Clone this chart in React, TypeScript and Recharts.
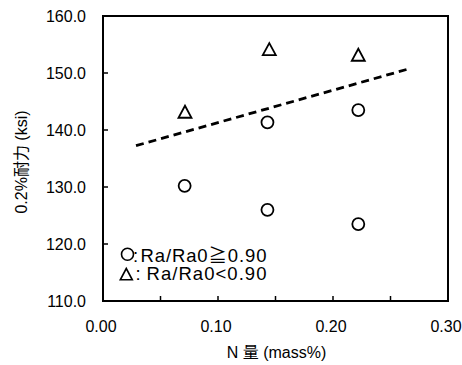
import React from "react"
import {
  ComposedChart,
  Scatter,
  XAxis,
  YAxis,
  ReferenceArea,
  Label,
} from "recharts"

const HIGH_RATIO = [
  { x: 0.071, y: 130.2 },
  { x: 0.143, y: 141.35 },
  { x: 0.143, y: 126.0 },
  { x: 0.222, y: 143.5 },
  { x: 0.222, y: 123.5 },
]
const LOW_RATIO = [
  { x: 0.0713, y: 143.2 },
  { x: 0.1446, y: 154.2 },
  { x: 0.222, y: 153.2 },
]
const TREND = [
  { x: 0.0287, y: 137.25 },
  { x: 0.2655, y: 150.7 },
]
const X_TICKS = [0, 0.05, 0.1, 0.15, 0.2, 0.25, 0.3]
const Y_TICKS = [110, 120, 130, 140, 150, 160]

const FONT = '"Liberation Sans", Arial, "Noto Sans CJK JP", sans-serif'

const Circle = (props: any) => (
  <circle cx={props.cx} cy={props.cy} r={6} fill="#fff" stroke="#000" strokeWidth={1.8} />
)

const Triangle = (props: any) => {
  const { cx, cy } = props
  return (
    <polygon
      points={`${cx},${cy - 6} ${cx - 6.5},${cy + 6} ${cx + 6.5},${cy + 6}`}
      fill="#fff"
      stroke="#000"
      strokeWidth={1.8}
      strokeLinejoin="miter"
    />
  )
}

const XTick = (props: any) => {
  const { x, y, payload } = props
  const v = payload.value
  const labelled = Math.round(v * 100) % 10 === 0
  const edge = v === 0 || Math.abs(v - 0.3) < 1e-9
  return (
    <g>
      {!edge && <line x1={x} y1={y} x2={x} y2={y - 5} stroke="#000" strokeWidth={1.5} />}
      {labelled && (
        <text x={x - 2} y={y + 31} textAnchor="middle" fontSize={16} fontFamily={FONT} fill="#000">
          {v.toFixed(2)}
        </text>
      )}
    </g>
  )
}

const YTick = (props: any) => {
  const { x, y, payload } = props
  const v = payload.value
  const edge = v === 110 || v === 160
  return (
    <g>
      {!edge && <line x1={x} y1={y} x2={x + 5} y2={y} stroke="#000" strokeWidth={1.5} />}
      <text x={x - 17} y={y + 6} textAnchor="end" fontSize={16} fontFamily={FONT} fill="#000">
        {v.toFixed(1)}
      </text>
    </g>
  )
}

export default function App() {
  return (
    <div style={{ position: "absolute", left: 0, top: 0, width: 462, height: 365, background: "#fff" }}>
      <ComposedChart
        width={462}
        height={365}
        margin={{ top: 16, right: 14, left: 0, bottom: 0 }}
      >
        <XAxis
          type="number"
          dataKey="x"
          domain={[0, 0.3]}
          ticks={X_TICKS}
          interval={0}
          height={64}
          axisLine={false}
          tickLine={false}
          tickSize={0}
          tickMargin={0}
          tick={<XTick />}
        >
          <Label
            content={(p: any) => (
              <text
                x={p.viewBox.x + p.viewBox.width / 2 + 1}
                y={358}
                textAnchor="middle"
                fontSize={16}
                fontFamily={FONT}
                fill="#000"
              >
                N 量 (mass%)
              </text>
            )}
          />
        </XAxis>
        <YAxis
          type="number"
          dataKey="y"
          domain={[110, 160]}
          ticks={Y_TICKS}
          interval={0}
          width={103}
          axisLine={false}
          tickLine={false}
          tickSize={0}
          tickMargin={0}
          tick={<YTick />}
        >
          <Label
            content={() => (
              <text
                x={21}
                y={162}
                transform="rotate(-90 21 162)"
                textAnchor="middle"
                dominantBaseline="central"
                fontSize={16}
                fontFamily={FONT}
                fill="#000"
              >
                0.2%耐力 (ksi)
              </text>
            )}
          />
        </YAxis>
        <ReferenceArea
          x1={0}
          x2={0.3}
          y1={110}
          y2={160}
          fill="none"
          fillOpacity={0}
          stroke="#000"
          strokeWidth={2}
          ifOverflow="visible"
        />
        <Scatter
          data={TREND}
          fill="#000"
          line={{ strokeWidth: 2.8, strokeDasharray: "8 5" }}
          shape={() => <g />}
          isAnimationActive={false}
        />
        <Scatter data={HIGH_RATIO} shape={<Circle />} isAnimationActive={false} />
        <Scatter data={LOW_RATIO} shape={<Triangle />} isAnimationActive={false} />
      </ComposedChart>
      <svg
        width={462}
        height={365}
        style={{ position: "absolute", left: 0, top: 0, pointerEvents: "none" }}
      >
        <circle cx={127.5} cy={254.3} r={6} fill="none" stroke="#000" strokeWidth={1.6} />
        <text x={133} y={261.5} fontSize={18.5} fontFamily={FONT} fill="#000">:</text>
        <text
          x={140.5}
          y={261.5}
          fontSize={18.5}
          fontFamily={FONT}
          fill="#000"
          textLength={126}
          lengthAdjust="spacing"
        >
          Ra/Ra0≧0.90
        </text>
        <polygon
          points="126.3,268.5 120.3,279.8 132.3,279.8"
          fill="none"
          stroke="#000"
          strokeWidth={1.6}
        />
        <text x={135.5} y={280} fontSize={18.5} fontFamily={FONT} fill="#000">:</text>
        <text
          x={146.5}
          y={280}
          fontSize={18.5}
          fontFamily={FONT}
          fill="#000"
          textLength={120}
          lengthAdjust="spacing"
        >
          Ra/Ra0&lt;0.90
        </text>
      </svg>
    </div>
  )
}
